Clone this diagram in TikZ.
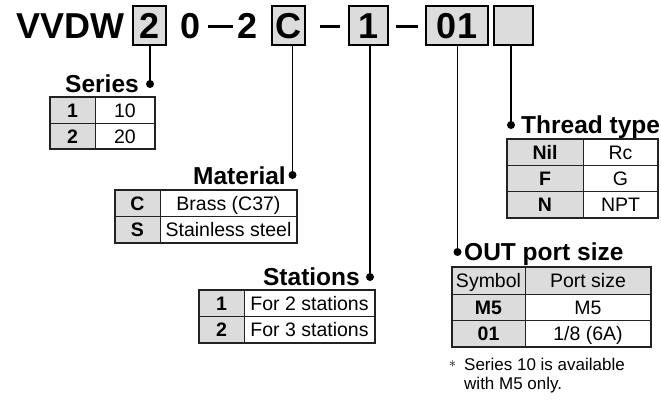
\documentclass[tikz,border=0pt]{standalone}
\usepackage{fontspec}
\setmainfont{Liberation Sans}
\definecolor{cellgray}{HTML}{DCDCDC}
\definecolor{rulegray}{HTML}{222222}
\newcommand{\hdrfont}{\fontsize{36}{40}\selectfont\bfseries}
\newcommand{\ttlfont}{\fontsize{24.5}{28}\selectfont\bfseries}
\newcommand{\txtfont}{\fontsize{19.5}{23}\selectfont}
\newcommand{\btxtfont}{\fontsize{19.5}{23}\selectfont\bfseries}
\newcommand{\notefont}{\fontsize{17}{20}\selectfont}
\begin{document}
\begin{tikzpicture}[x=1pt,y=-1pt,
  codebox/.style={draw,line width=1.6pt,fill=cellgray,inner sep=0pt,minimum height=39pt,font=\hdrfont,text height=25.5pt,text depth=0pt},
  hdr/.style={inner sep=0pt,font=\hdrfont,anchor=base},
  ttl/.style={inner sep=0pt,font=\ttlfont},
  txt/.style={inner sep=0pt,font=\txtfont,text height=14pt,text depth=0pt},
  btxt/.style={inner sep=0pt,font=\btxtfont,text height=14pt,text depth=0pt},
  lead/.style={line width=1.5pt},
  dot/.style={fill,circle,inner sep=0pt,minimum size=8pt},
  outerrule/.style={draw=rulegray,line width=1.6pt},
  innerrule/.style={draw=rulegray,line width=0.8pt},
  dashbar/.style={line width=3pt}]
\useasboundingbox (0,0) rectangle (661,400);

% ---------- code line ----------
\node[hdr,anchor=base east] (vvdw) at (125,38.5) {VVDW};
\node[codebox,minimum width=33pt] (b1) at (149.5,25.5) {2};
\node[hdr] (zero) at (191,38.5) {0};
\coordinate (da1) at (208,26);
\coordinate (da2) at (233,26);
\draw[dashbar] (da1) -- (da2);
\node[hdr] (two) at (247.5,38.5) {2};
\node[codebox,minimum width=33pt] (b2) at (288.5,25.5) {C};
\coordinate (db1) at (320,26);
\coordinate (db2) at (340,26);
\draw[dashbar] (db1) -- (db2);
\node[codebox,minimum width=39pt] (b3) at (368.5,25.5) {1};
\coordinate (dc1) at (396,26);
\coordinate (dc2) at (418,26);
\draw[dashbar] (dc1) -- (dc2);
\node[codebox,minimum width=62pt] (b4) at (457,25.5) {01};
\node[codebox,minimum width=39pt] (b5) at (513.5,25.5) {};

% ---------- dots and leaders ----------
\node[dot] (d1) at (150,84) {};
\node[dot] (d2) at (292.5,175) {};
\node[dot] (d3) at (370,277) {};
\node[dot] (d4) at (457.5,252) {};
\node[dot] (d5) at (511,125) {};
\draw[lead] (d1 |- b1.south) -- (d1.center);
\draw[lead] (d2 |- b2.south) -- (d2.center);
\draw[lead] (d3 |- b3.south) -- (d3.center);
\draw[lead] (d4 |- b4.south) -- (d4.center);
\draw[lead] (d5 |- b5.south) -- (d5.center);

% ---------- titles ----------
\node[ttl,anchor=base east] (tser) at (139,92) {Series};
\node[ttl,anchor=base east] (tmat) at (286,184) {Material};
\node[ttl,anchor=base east] (tsta) at (360,285.5) {Stations};
\node[ttl,anchor=base west] (tthr) at (521,133) {Thread type};
\node[ttl,anchor=base west] (tout) at (464,260.5) {OUT port size};

% ---------- Series table ----------
\fill[cellgray] (50,97) rectangle (95,149);
\draw[innerrule] (95,97) -- (95,149) (50,123) -- (155,123);
\draw[outerrule] (50,97) rectangle (155,149);
\node[btxt] (s1a) at (72.5,110) {1};
\node[txt]  (s1b) at (125,110) {10};
\node[btxt] (s2a) at (72.5,136) {2};
\node[txt]  (s2b) at (125,136) {20};

% ---------- Material table ----------
\fill[cellgray] (115,190) rectangle (160,243);
\draw[innerrule] (160,190) -- (160,243) (115,216.5) -- (297,216.5);
\draw[outerrule] (115,190) rectangle (297,243);
\node[btxt] (m1a) at (137.5,203.25) {C};
\node[txt]  (m1b) at (228.5,203.25) {Brass (C37)};
\node[btxt] (m2a) at (137.5,229.75) {S};
\node[txt]  (m2b) at (228.5,229.75) {Stainless steel};

% ---------- Stations table ----------
\fill[cellgray] (199,290) rectangle (244,343);
\draw[innerrule] (244,290) -- (244,343) (199,316.5) -- (375,316.5);
\draw[outerrule] (199,290) rectangle (375,343);
\node[btxt] (st1a) at (221.5,303.25) {1};
\node[txt]  (st1b) at (309.5,303.25) {For 2 stations};
\node[btxt] (st2a) at (221.5,329.75) {2};
\node[txt]  (st2b) at (309.5,329.75) {For 3 stations};

% ---------- Thread type table ----------
\fill[cellgray] (507,139) rectangle (583,218);
\draw[innerrule] (583,139) -- (583,218) (507,165.3) -- (658,165.3) (507,191.7) -- (658,191.7);
\draw[outerrule] (507,139) rectangle (658,218);
\node[btxt] (t1a) at (545,152.2) {Nil};
\node[txt]  (t1b) at (620.5,152.2) {Rc};
\node[btxt] (t2a) at (545,178.5) {F};
\node[txt]  (t2b) at (620.5,178.5) {G};
\node[btxt] (t3a) at (545,204.8) {N};
\node[txt]  (t3b) at (620.5,204.8) {NPT};

% ---------- OUT port size table ----------
\fill[cellgray] (452,267) rectangle (651,294);
\fill[cellgray] (452,294) rectangle (525,347);
\draw[innerrule] (525,267) -- (525,347) (452,294) -- (651,294) (452,320.5) -- (651,320.5);
\draw[outerrule] (452,267) rectangle (651,347);
\node[txt]  (o0a) at (488.5,280.5) {Symbol};
\node[txt]  (o0b) at (588,280.5) {Port size};
\node[btxt] (o1a) at (488.5,307.25) {M5};
\node[txt]  (o1b) at (588,307.25) {M5};
\node[btxt] (o2a) at (488.5,333.75) {01};
\node[txt]  (o2b) at (588,333.75) {1/8 (6A)};

% ---------- note ----------
\node[inner sep=0pt,font=\fontsize{15}{15}\selectfont] (ast) at (452.5,364) {$\ast$};
\node[inner sep=0pt,anchor=base west,font=\notefont] (n1) at (464,370) {Series 10 is available};
\node[inner sep=0pt,anchor=base west,font=\notefont] (n2) at (464,389.5) {with M5 only.};
\end{tikzpicture}
\end{document}
